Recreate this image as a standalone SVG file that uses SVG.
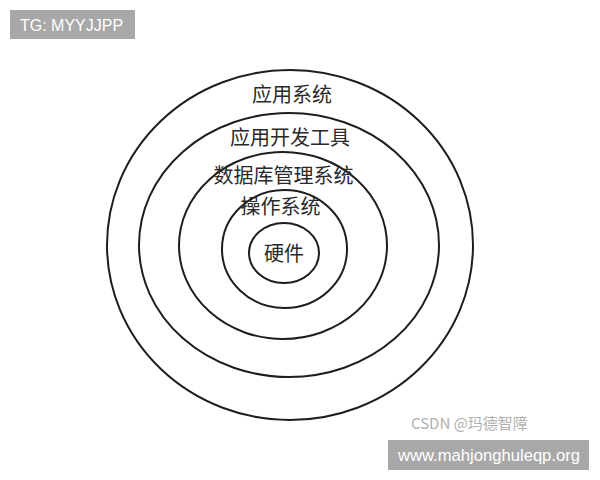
<svg xmlns="http://www.w3.org/2000/svg" width="600" height="480" viewBox="0 0 600 480">
<style>
.ring{fill:none;stroke:#1e1e1e;stroke-width:2}
.lbl{font-family:"Noto Sans CJK SC","Liberation Sans",sans-serif;font-size:20px;fill:#2a2a2a;text-anchor:middle}
.wm{font-family:"Liberation Sans","Noto Sans CJK SC",sans-serif;font-size:16px;fill:#ffffff}
</style>
<rect width="600" height="480" fill="#ffffff"/>
<g id="rings">
<g id="n-app"><ellipse class="ring" cx="290" cy="245" rx="183" ry="175"/><text class="lbl" x="292" y="102">应用系统</text></g>
<g id="n-tools"><ellipse class="ring" cx="289" cy="245" rx="150" ry="132"/><text class="lbl" x="290" y="145">应用开发工具</text></g>
<g id="n-dbms"><ellipse class="ring" cx="283" cy="245.5" rx="104" ry="93.5"/><text class="lbl" x="283.5" y="183">数据库管理系统</text></g>
<g id="n-os"><ellipse class="ring" cx="284.5" cy="249" rx="62.5" ry="59"/><text class="lbl" x="280.5" y="214">操作系统</text></g>
<g id="n-hw"><ellipse class="ring" cx="284" cy="253" rx="35" ry="30"/><text class="lbl" x="284" y="261">硬件</text></g>
</g>
<g id="connectors"></g>
<g id="watermarks">
<rect x="10" y="10" width="125" height="29" fill="#a8a8a8"/>
<text class="wm" x="20" y="30.5">TG: MYYJJPP</text>
<text x="411" y="429" font-family="Noto Sans CJK SC,Liberation Sans,sans-serif" font-size="15" fill="#b0b0b0">CSDN @玛德智障</text>
<rect x="388" y="440" width="201" height="30" fill="#a8a8a8"/>
<text class="wm" x="398" y="461" textLength="182" lengthAdjust="spacingAndGlyphs">www.mahjonghuleqp.org</text>
</g>
</svg>
